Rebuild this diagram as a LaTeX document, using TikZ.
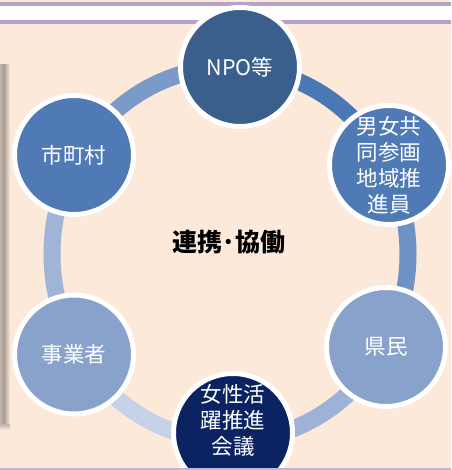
\documentclass[tikz,border=0pt]{standalone}
\usepackage{fontspec}
\newfontfamily\cjk{Noto Sans CJK JP}
\definecolor{bg}{HTML}{FDE9DA}
\definecolor{lav}{HTML}{B3A3CC}
\definecolor{cNPO}{HTML}{3A5F8C}
\definecolor{cMid}{HTML}{4F7AB5}
\definecolor{cLight}{HTML}{89A2CB}
\definecolor{cNavy}{HTML}{0B2360}
\definecolor{rA}{HTML}{4A78B4}
\definecolor{rB}{HTML}{6F92C4}
\definecolor{rC}{HTML}{9DB2D6}
\definecolor{rD}{HTML}{C5D2E8}
\definecolor{rE}{HTML}{9FB4D6}
\definecolor{rF}{HTML}{7A9BC8}
\definecolor{shd}{HTML}{A89C94}
\tikzset{
  actor/.style={circle, minimum size=119pt, inner sep=0pt, draw=white, line width=5pt,
     text=white, font=\cjk\fontsize{21.5}{26}\selectfont, align=center},
  lbl/.style={text=white, font=\cjk\fontsize{21.5}{26}\selectfont, align=center, inner sep=0pt},
  ringseg/.style={line width=17pt, line cap=butt}
}
\begin{document}
\begin{tikzpicture}[x=1pt,y=1pt]
\useasboundingbox (0,0) rectangle (451,470);
\clip (0,0) rectangle (451,470);
% background
\fill[bg] (0,0) rectangle (451,470);
\fill[white] (0,446) rectangle (451,468);
\fill[lav] (0,464) rectangle (451,468.3);
\fill[lav] (0,445.7) rectangle (451,450);
% left shadow
\shade[left color=shd!70!bg, right color=shd] (0,45) rectangle (4,405);
\shade[left color=shd, right color=bg] (4,45) rectangle (10,405);
\shade[top color=shd!60!bg, bottom color=bg] (0,45) rectangle (10,40);
% ring (ellipse) points
\coordinate (ctr) at (230,216);
\path (ctr) ++(88:178 and 187) coordinate (rNPO);
\path (ctr) ++(31:178 and 187) coordinate (rDan);
\path (ctr) ++(-31:178 and 187) coordinate (rKen);
\path (ctr) ++(-90:178 and 187) coordinate (rJos);
\path (ctr) ++(-148:178 and 187) coordinate (rJig);
\path (ctr) ++(148:178 and 187) coordinate (rShi);
% ring segments
\draw[ringseg, rA] (rNPO) arc[start angle=88, end angle=31, x radius=178, y radius=187];
\draw[ringseg, rB] (rDan) arc[start angle=31, end angle=-31, x radius=178, y radius=187];
\draw[ringseg, rC] (rKen) arc[start angle=-31, end angle=-90, x radius=178, y radius=187];
\draw[ringseg, rD] (rJos) arc[start angle=-90, end angle=-148, x radius=178, y radius=187];
\draw[ringseg, rE] (rJig) arc[start angle=-148, end angle=-212, x radius=178, y radius=187];
\draw[ringseg, rF] (rShi) arc[start angle=148, end angle=88, x radius=178, y radius=187];
% circles
\node[actor, fill=cNPO] (npo) at (240,403) {NPO等};
\node[actor, fill=cMid] (dan) at (389,305) {男女共\\同参画\\地域推\\進員};
\node[actor, fill=cLight] (ken) at (386,123) {県民};
\node[actor, fill=cNavy] (jos) at (233,37) {};
\node[lbl] (joslbl) at (233,50) {女性活\\躍推進\\会議};
\node[actor, fill=cLight] (jig) at (74,115.5) {事業者};
\node[actor, fill=cMid] (shi) at (74,315) {市町村};
% centre text
\node[font=\cjk\bfseries\fontsize{25}{28}\selectfont, text=black] (renkei) at (229,228) {連携･協働};
% bottom line
\fill[lav!80!white] (0,0) rectangle (451,1.5);
\end{tikzpicture}
\end{document}
